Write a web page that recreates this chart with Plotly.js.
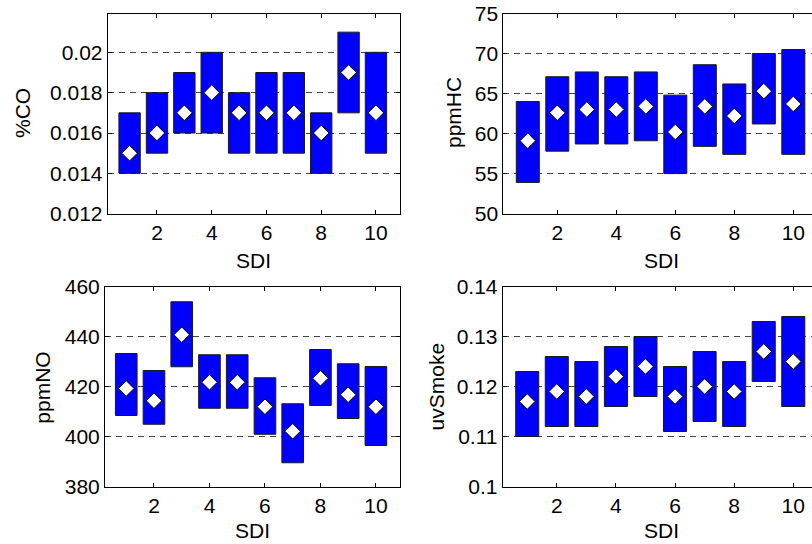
<!DOCTYPE html>
<html>
<head>
<meta charset="utf-8">
<script src="https://cdn.plot.ly/plotly-3.0.1.min.js"></script>
<style>
html, body { margin:0; padding:0; overflow:hidden; background:#fff; }
#chart { width:830px; height:544px; }
</style>
</head>
<body>
<div id="chart"></div>
<script>
// ---- data ----
const sdi = [1,2,3,4,5,6,7,8,9,10];

const coLow  = [0.014,0.015,0.016,0.016,0.015,0.015,0.015,0.014,0.017,0.015];
const coHigh = [0.017,0.018,0.019,0.020,0.018,0.019,0.019,0.017,0.021,0.020];
const coMid  = [0.015,0.016,0.017,0.018,0.017,0.017,0.017,0.016,0.019,0.017];

const hcLow  = [53.9,57.8,58.7,58.7,59.1,55.0,58.4,57.4,61.2,57.4];
const hcHigh = [64.0,67.1,67.7,67.1,67.7,64.8,68.6,66.2,70.0,70.5];
const hcMid  = [59.1,62.6,63.0,63.0,63.4,60.2,63.4,62.2,65.3,63.7];

const noLow  = [408.4,404.9,427.9,411.3,411.3,400.9,389.5,412.4,407.2,396.4];
const noHigh = [433.2,426.4,453.9,432.7,432.7,423.5,413.1,434.8,429.1,428.0];
const noMid  = [419.2,414.3,440.7,421.7,421.7,411.9,402.1,423.3,416.7,411.9];

const smLow  = [0.110,0.112,0.112,0.116,0.118,0.111,0.113,0.112,0.121,0.116];
const smHigh = [0.123,0.126,0.125,0.128,0.130,0.124,0.127,0.125,0.133,0.134];
const smMid  = [0.117,0.119,0.118,0.122,0.124,0.118,0.120,0.119,0.127,0.125];

const yTitles = ['%CO','ppmHC','ppmNO','uvSmoke'];
const xTitle = 'SDI';
const xTicks = [2,4,6,8,10];
const coTicks = [0.012,0.014,0.016,0.018,0.02];
const hcTicks = [50,55,60,65,70,75];
const noTicks = [380,400,420,440,460];
const smTicks = [0.1,0.11,0.12,0.13,0.14];

// ---- layout geometry (pixels) ----
const W = 830, H = 544;
const fx = p => p / W;
const fy = p => 1 - p / H;
const FONT = 'Liberation Sans, Arial, sans-serif';

const panels = [
  {low:coLow, high:coHigh, mid:coMid, xd:[107.7,399.5], yd:[14,213.7], xr:[0.2,10.86], yr:[0.012,0.0219], yt:coTicks},
  {low:hcLow, high:hcHigh, mid:hcMid, xd:[503.3,818.7], yd:[13.5,213.6], xr:[0.17,10.86], yr:[50,75], yt:hcTicks},
  {low:noLow, high:noHigh, mid:noMid, xd:[105,399.5], yd:[286.5,486.5], xr:[0.234,10.85], yr:[380,460], yt:noTicks},
  {low:smLow, high:smHigh, mid:smMid, xd:[502.7,818.7], yd:[286.5,486.5], xr:[0.17,10.86], yr:[0.1,0.14], yt:smTicks}
];

const traces = [];
const layout = {
  width: W, height: H,
  margin: {l:0, r:0, t:0, b:0},
  paper_bgcolor: '#fff', plot_bgcolor: '#fff',
  showlegend: false,
  font: {family: FONT, size: 21, color: '#000'},
  annotations: []
};

const titlePos = [
  {yx:22, yy:113, sx:253.6, sy:260.5, bottom:false},
  {yx:453, yy:113, sx:661, sy:260.5, bottom:false},
  {yx:41.7, yy:388, sx:252.2, sy:544, bottom:true},
  {yx:436.7, yy:386.7, sx:661, sy:544, bottom:true}
];

panels.forEach((p, i) => {
  const n = i + 1;
  const xa = n === 1 ? 'x' : 'x' + n;
  const ya = n === 1 ? 'y' : 'y' + n;
  traces.push({
    type: 'bar', x: sdi,
    y: p.high.map((h, k) => h - p.low[k]),
    base: p.low,
    width: 0.78,
    marker: {color: '#0000FF', line: {color: '#1a1a1a', width: 1}},
    xaxis: xa, yaxis: ya, hoverinfo: 'skip'
  });
  traces.push({
    type: 'scatter', mode: 'markers', x: sdi, y: p.mid,
    marker: {symbol: 'diamond', size: 12, color: '#fff', line: {color: '#000', width: 1}},
    xaxis: xa, yaxis: ya, hoverinfo: 'skip'
  });
  const xk = n === 1 ? 'xaxis' : 'xaxis' + n;
  const yk = n === 1 ? 'yaxis' : 'yaxis' + n;
  layout[xk] = {
    domain: [fx(p.xd[0]), fx(p.xd[1])], range: p.xr, anchor: ya,
    tickvals: xTicks, ticks: 'inside', ticklen: 4, tickcolor: '#000',
    showline: true, linecolor: '#000', linewidth: 1, mirror: 'allticks',
    showgrid: false, zeroline: false, tickfont: {size: 21}
  };
  layout[yk] = {
    domain: [fy(p.yd[1]), fy(p.yd[0])], range: p.yr, anchor: xa,
    tickvals: p.yt, ticks: 'inside', ticklen: 4, tickcolor: '#000',
    showline: true, linecolor: '#000', linewidth: 1, mirror: 'allticks',
    showgrid: true, gridcolor: '#444', griddash: '6px,5px', gridwidth: 1,
    zeroline: false, tickfont: {size: 21}
  };
  const t = titlePos[i];
  layout.annotations.push({
    text: yTitles[i], xref: 'paper', yref: 'paper', x: fx(t.yx), y: fy(t.yy),
    xanchor: 'center', yanchor: 'middle', textangle: -90, showarrow: false,
    font: {size: 21}
  });
  layout.annotations.push({
    text: xTitle, xref: 'paper', yref: 'paper', x: fx(t.sx), y: fy(t.sy),
    xanchor: 'center', yanchor: t.bottom ? 'bottom' : 'middle', showarrow: false,
    font: {size: 21}
  });
});

Plotly.newPlot('chart', traces, layout, {displayModeBar: false, staticPlot: true});
</script>
</body>
</html>
